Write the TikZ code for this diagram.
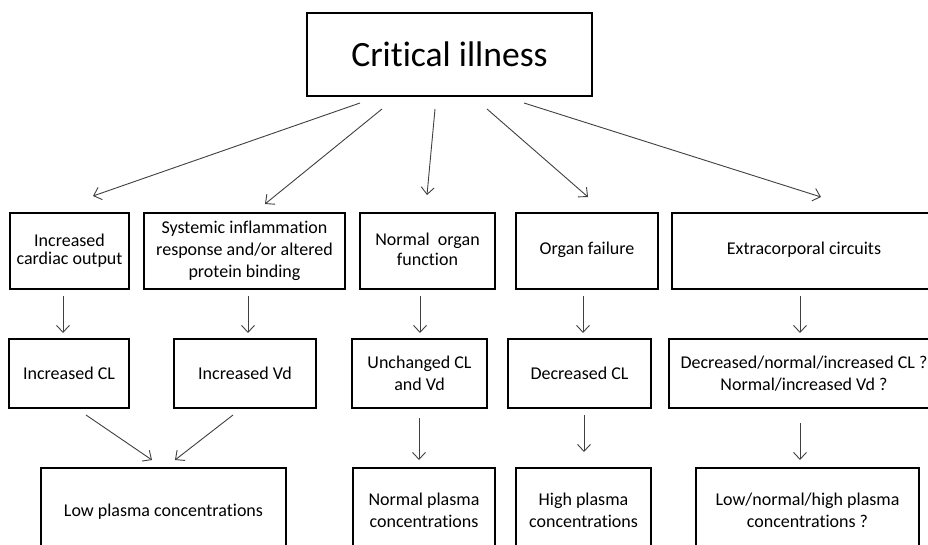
\documentclass[tikz,border=0pt]{standalone}
\usepackage{fontspec}
\setmainfont{Carlito}[Ligatures={NoCommon},RawFeature={-liga;-clig;-dlig}]
\usetikzlibrary{arrows.meta}
\definecolor{arrgray}{HTML}{404040}
\tikzset{
  box/.style={draw, line width=2.8pt, inner sep=0pt, align=center,
    font=\fontsize{18}{22}\selectfont},
  arr/.style={draw=arrgray, line width=0.9pt,
    -{Straight Barb[length=7pt,width=13pt,line width=0.9pt]}}
}
\begin{document}
\begin{tikzpicture}[x=1pt,y=-1pt]
\clip (0,0) rectangle (928,545);
\fill[white] (0,0) rectangle (928,545);
% top
\node[box, line width=2.2pt, minimum width=285, minimum height=83,
  font=\fontsize{35.6}{40}\selectfont] (top) at (449.5,54.5) {Critical illness};
% row 1
\node[box, minimum width=119, minimum height=76] (a1) at (69.5,251) {\raisebox{3pt}{\shortstack{Increased\\[2pt]cardiac output}}};
\node[box, minimum width=201, minimum height=76] (b1) at (244.5,251) {Systemic inflammation\\response and/or altered\\protein binding};
\node[box, minimum width=135, minimum height=76] (c1) at (427.5,251) {\raisebox{3pt}{\shortstack{Normal\ \ organ\\[2pt]function}}};
\node[box, minimum width=142, minimum height=76] (d1) at (587,251) {\raisebox{6pt}{Organ failure}};
\node[box, minimum width=264, minimum height=76] (e1) at (804,251) {\raisebox{6pt}{Extracorporal circuits}};
% row 2
\node[box, minimum width=120, minimum height=69] (a2) at (69,373.5) {Increased CL};
\node[box, minimum width=142, minimum height=69] (b2) at (245,373.5) {Increased Vd};
\node[box, minimum width=135, minimum height=69] (c2) at (419.5,373.5) {Unchanged CL\\and Vd};
\node[box, minimum width=143, minimum height=69] (d2) at (579.5,373.5) {Decreased CL};
\node[box, minimum width=270, minimum height=69] (e2) at (804,373.5) {Decreased/normal/increased CL ?\\Normal/increased Vd ?};
% row 3
\node[box, minimum width=245, minimum height=88] (a3) at (163.5,512) {Low plasma concentrations};
\node[box, minimum width=142, minimum height=84] (c3) at (424,510) {Normal plasma\\concentrations};
\node[box, minimum width=135, minimum height=84] (d3) at (583.5,510) {High plasma\\concentrations};
\node[box, minimum width=223, minimum height=84] (e3) at (807.5,510) {Low/normal/high plasma\\concentrations ?};
% connector end points
\coordinate (t1s) at (360,103); \coordinate (t1e) at (93,196);
\coordinate (t2s) at (382,109); \coordinate (t2e) at (265,204);
\coordinate (t3s) at (435,109); \coordinate (t3e) at (427,195);
\coordinate (t4s) at (487,109); \coordinate (t4e) at (588,197);
\coordinate (t5s) at (524,103); \coordinate (t5e) at (821,197);
\coordinate (a12s) at (63,296);  \coordinate (a12e) at (63,333);
\coordinate (b12s) at (248,296); \coordinate (b12e) at (248,333);
\coordinate (c12s) at (420,296); \coordinate (c12e) at (420,333);
\coordinate (d12s) at (583,296); \coordinate (d12e) at (583,333);
\coordinate (e12s) at (800,296); \coordinate (e12e) at (800,333);
\coordinate (a23s) at (86,415);  \coordinate (a23e) at (152,460);
\coordinate (b23s) at (233,415); \coordinate (b23e) at (175,460);
\coordinate (c23s) at (419,418); \coordinate (c23e) at (419,460);
\coordinate (d23s) at (584,415); \coordinate (d23e) at (584,452);
\coordinate (e23s) at (800,423); \coordinate (e23e) at (800,460);
% connectors
\foreach \s/\e in {t1s/t1e,t2s/t2e,t3s/t3e,t4s/t4e,t5s/t5e,
  a12s/a12e,b12s/b12e,c12s/c12e,d12s/d12e,e12s/e12e,
  a23s/a23e,b23s/b23e,c23s/c23e,d23s/d23e,e23s/e23e}
  \draw[arr] (\s) -- (\e);
\end{tikzpicture}
\end{document}
